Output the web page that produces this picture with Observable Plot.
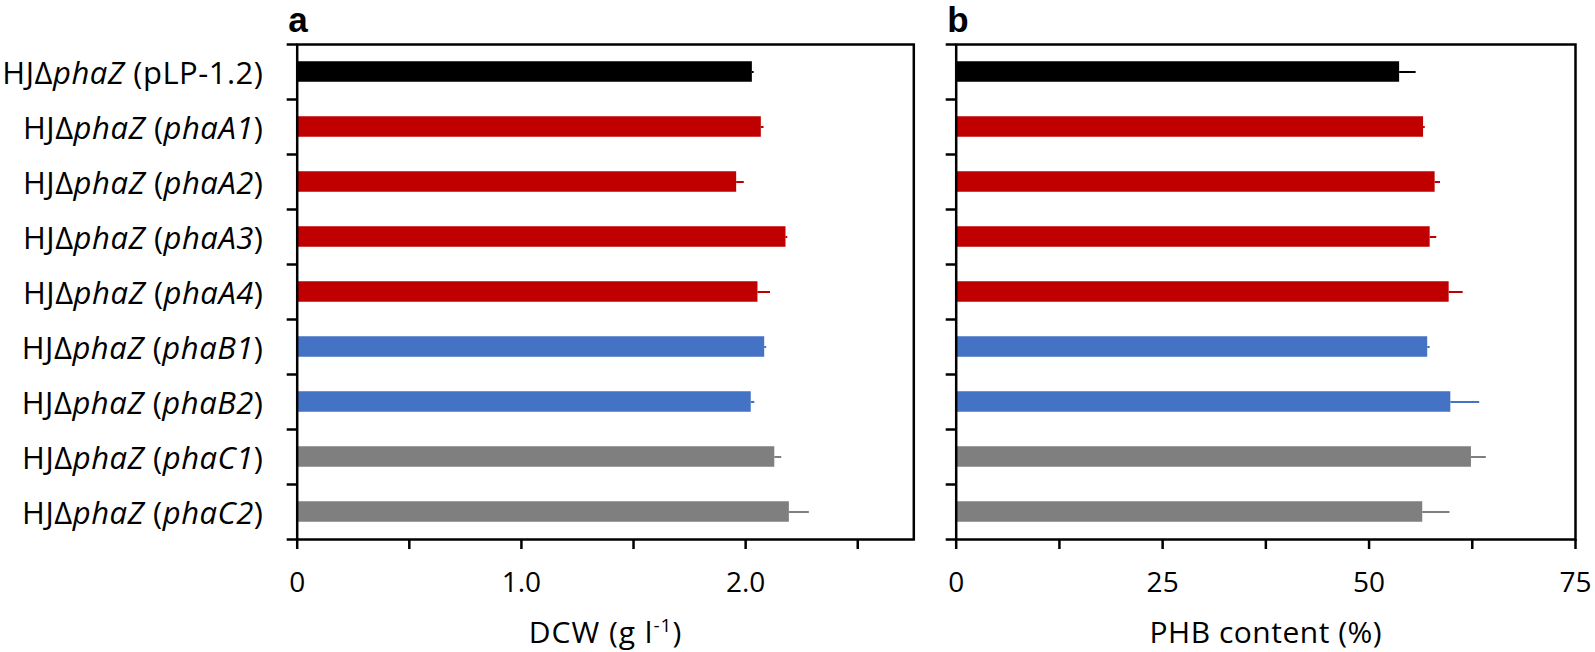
<!DOCTYPE html>
<html><head><meta charset="utf-8">
<script src="https://cdn.jsdelivr.net/npm/d3@7"></script>
<script src="https://cdn.jsdelivr.net/npm/@observablehq/plot@0.6"></script>
<style>
body{margin:0;background:#fff;}
#wrap{position:relative;width:1595px;height:652px;overflow:hidden;}
#wrap svg{position:absolute;top:0;}
</style></head><body><div id="wrap"></div>
<script>
const strains = ["pLP-1.2","phaA1","phaA2","phaA3","phaA4","phaB1","phaB2","phaC1","phaC2"];
const groups = ["control","phaA","phaA","phaA","phaA","phaB","phaB","phaC","phaC"];
const dcw = [2.03, 2.07, 1.96, 2.18, 2.055, 2.085, 2.025, 2.13, 2.195];
const dcwErr = [0.008, 0.012, 0.034, 0.008, 0.056, 0.009, 0.016, 0.031, 0.089];
const phb = [53.7, 56.6, 58.0, 57.4, 59.7, 57.1, 59.9, 62.4, 56.5];
const phbErr = [2.0, 0.2, 0.65, 0.8, 1.7, 0.3, 3.5, 1.8, 3.3];
const groupNames = ["control","phaA","phaB","phaC"];
const groupColors = ["#000000","#c00000","#4472c4","#7f7f7f"];
const dcwTicks = [0,0.5,1,1.5,2,2.5];
const phbTicks = [0,12.5,25,37.5,50,62.5,75];

const rows = strains.map((s,i)=>({strain:s, group:groups[i], dcw:dcw[i], dcwErr:dcwErr[i], phb:phb[i], phbErr:phbErr[i]}));

function panel({width, left, marginLeft, marginRight, domain, ticks, fmt, field, errField, letter, xlabel, showLabels}) {
  const band = (652 - 44 - 113) / strains.length;
  const marks = [
    Plot.barX(rows, {x: field, y: "strain", fill: "group", insetTop: 17.25, insetBottom: 17.25}),
    Plot.ruleY(rows, {x1: field, x2: d => d[field] + d[errField], y: "strain", stroke: "group", strokeWidth: 2}),
    Plot.frame({stroke: "#000", strokeWidth: 2.5}),
    Plot.axisX({ticks, tickSize: 10, tickPadding: 23, tickFormat: fmt, fontSize: 28, strokeWidth: 2.5, label: null}),
    Plot.axisY({tickSize: 10, dy: band / 2, tickFormat: () => "", strokeWidth: 2.5, label: null}),
    Plot.axisY({ticks: [strains[0]], tickSize: 10, dy: -band / 2, tickFormat: () => "", strokeWidth: 2.5, label: null}),
    Plot.text([letter], {text: d => d, frameAnchor: "top-left", dx: -9, dy: -13, lineAnchor: "bottom", textAnchor: "start", fontSize: 35, fontWeight: "bold", fontFamily: "Liberation Sans, Arial, sans-serif"}),
    Plot.text([xlabel], {text: d => d, frameAnchor: "bottom", dy: 103.7, lineAnchor: "bottom", fontSize: 30})
  ];
  if (showLabels) marks.push(Plot.axisY({tickSize: 0, tickPadding: 33.7, dy: 2, tickFormat: d => `HJΔphaZ (${d})`, fontSize: 31, label: null}));
  const svg = Plot.plot({
    width, height: 652,
    marginTop: 44, marginBottom: 113, marginLeft, marginRight,
    style: {fontFamily: "Open Sans", color: "#000", background: "transparent", overflow: "visible"},
    x: {domain, label: null},
    y: {domain: strains, padding: 0, label: null},
    color: {domain: groupNames, range: groupColors},
    marks
  });
  svg.style.left = left + "px";
  const NS = "http://www.w3.org/2000/svg";
  svg.querySelectorAll("text").forEach(t => {
    const s = t.textContent;
    if (s.startsWith("HJΔphaZ")) {
      const name = s.match(/\((.*)\)/)[1];
      t.textContent = "";
      t.setAttribute("letter-spacing", "0.5");
      const parts = [["HJΔ", false], ["phaZ", true], [" (", false], [name, name !== "pLP-1.2"], [")", false]];
      for (const [txt, it] of parts) {
        const sp = document.createElementNS(NS, "tspan");
        sp.textContent = txt;
        if (it) sp.setAttribute("font-style", "italic");
        t.appendChild(sp);
      }
    } else if (s === "DCW (g l-1)") {
      t.textContent = "";
      t.setAttribute("letter-spacing", "1");
      const a = document.createElementNS(NS, "tspan"); a.textContent = "DCW (g l"; t.appendChild(a);
      const b = document.createElementNS(NS, "tspan"); b.textContent = "-1"; b.setAttribute("font-size", "19"); b.setAttribute("dy", "-11"); t.appendChild(b);
      const c = document.createElementNS(NS, "tspan"); c.textContent = ")"; c.setAttribute("dy", "11"); t.appendChild(c);
    } else if (s === "PHB content (%)") {
      t.setAttribute("letter-spacing", "0.5");
    }
  });
  return svg;
}

const wrap = document.getElementById("wrap");
wrap.appendChild(panel({
  width: 930, left: 0, marginLeft: 296.7, marginRight: 16.7, domain: [0, 2.75],
  ticks: dcwTicks, fmt: d => d === 0 ? "0" : (d % 1 === 0 ? d.toFixed(1) : ""),
  field: "dcw", errField: "dcwErr", letter: "a", xlabel: "DCW (g l-1)", showLabels: true
}));
wrap.appendChild(panel({
  width: 665, left: 930, marginLeft: 25.7, marginRight: 20, domain: [0, 75],
  ticks: phbTicks, fmt: d => d % 25 === 0 ? String(d) : "",
  field: "phb", errField: "phbErr", letter: "b", xlabel: "PHB content (%)", showLabels: false
}));
</script></body></html>
